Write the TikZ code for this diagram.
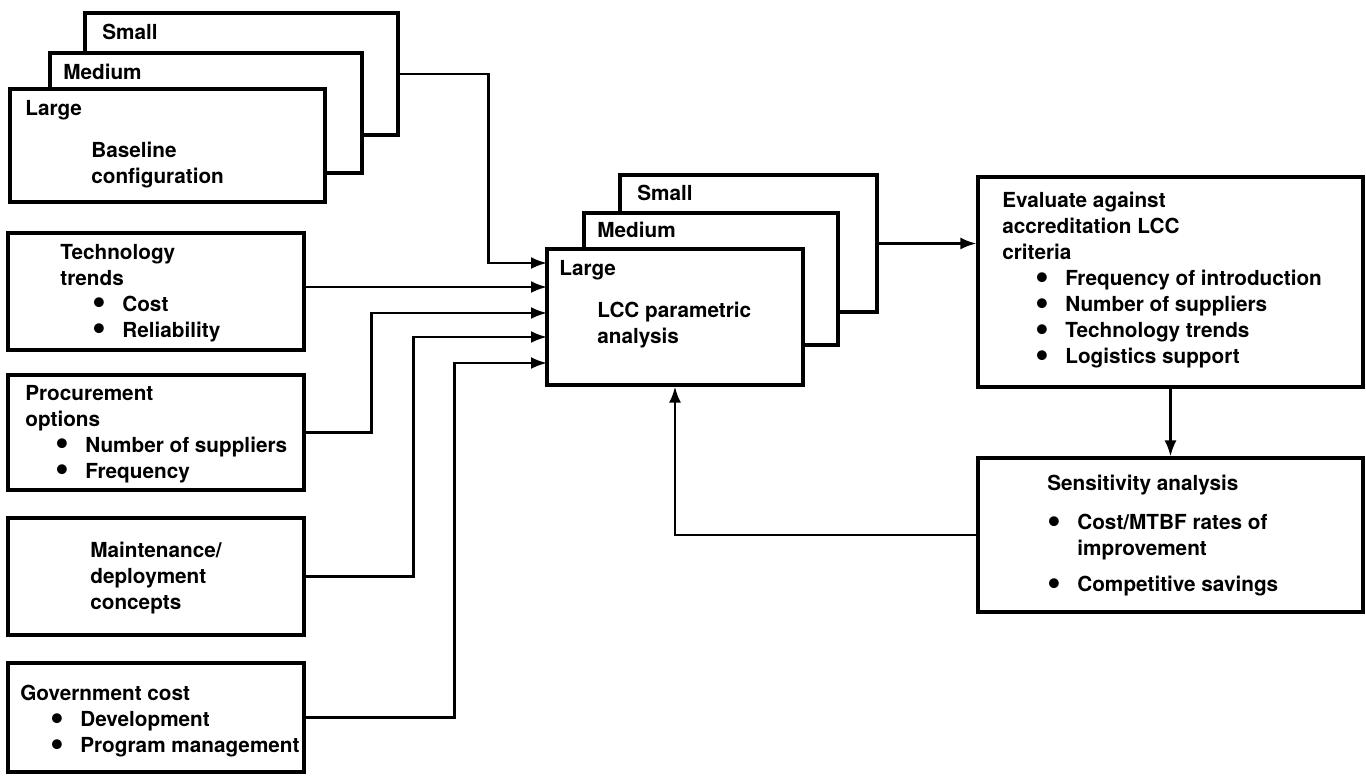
\documentclass[tikz,border=0pt]{standalone}
\usepackage{fontspec}
\usepackage{graphicx}
\setmainfont{TeX Gyre Heros}
\usetikzlibrary{arrows.meta, positioning, fit}
\newcommand{\itm}{\makebox[0.6cm][l]{\smash{\raisebox{-0.3ex}{\scalebox{1.9}{\textbullet}}}}}

\begin{document}
\begin{tikzpicture}[
  x=0.02cm, y=-0.02cm,
  panel/.style={rectangle, draw, line width=1.8pt, fill=white, inner sep=0pt},
  txt/.style={anchor=north west, align=left, inner sep=0pt, font=\bfseries\fontsize{11.8}{14.8}\selectfont},
  flow/.style={->, line width=1.4pt},
  >={Latex[length=0.32cm, width=0.24cm]}
]
\useasboundingbox (0,0) rectangle (1366,775);

\node[panel, fit={(85,13) (398,135)}] (baseS) {};
\node[panel, fit={(50,53) (362,173)}] (baseM) {};
\node[panel, fit={(10,89) (325,202)}] (baseL) {};
\node[txt] (baseStag) at (102,24) {Small};
\node[txt] (baseMtag) at (63,64) {Medium};
\node[txt] (baseLtag) at (25,100) {Large};
\node[txt] (basetext) at (91,142) {Baseline\\configuration};

\node[panel, fit={(8,233) (304,350)}] (tech) {};
\node[txt] (techtext) at (60,244) {Technology\\trends\\\hspace*{0.64cm}\itm Cost\\\hspace*{0.64cm}\itm Reliability};

\node[panel, fit={(8,375) (304,490)}] (proc) {};
\node[txt] (proctext) at (25,385) {Procurement\\options\\\hspace*{0.6cm}\itm Number of suppliers\\\hspace*{0.6cm}\itm Frequency};

\node[panel, fit={(8,518) (304,635)}] (maint) {};
\node[txt] (mainttext) at (90,542) {Maintenance/\\deployment\\concepts};

\node[panel, fit={(8,663) (304,772)}] (gov) {};
\node[txt] (govtext) at (20,685) {Government cost\\\hspace*{0.6cm}\itm Development\\\hspace*{0.6cm}\itm Program management};

\node[panel, fit={(620,175) (877,312)}] (lccS) {};
\node[panel, fit={(584,213) (838,345)}] (lccM) {};
\node[panel, fit={(547,249) (803,385)}] (lccL) {};
\node[txt] (lccStag) at (637,185) {Small};
\node[txt] (lccMtag) at (597,222) {Medium};
\node[txt] (lccLtag) at (559,260) {Large};
\node[txt] (lcctext) at (597,302) {LCC parametric\\analysis};

\node[panel, fit={(978,177) (1363,387)}] (eval) {};
\node[txt] (evaltext) at (1002,192) {Evaluate against\\accreditation LCC\\criteria\\\hspace*{0.66cm}\itm Frequency of introduction\\\hspace*{0.66cm}\itm Number of suppliers\\\hspace*{0.66cm}\itm Technology trends\\\hspace*{0.66cm}\itm Logistics support};

\node[panel, fit={(978,458) (1363,612)}] (sens) {};
\node[txt] (senstext) at (1047,475) {Sensitivity analysis\\[0.26cm]\itm Cost/MTBF rates of\\\hspace*{0.6cm}improvement\\[0.2cm]\itm Competitive savings};

\coordinate (in1) at (547,263);
\coordinate (in2) at (547,287);
\coordinate (in3) at (547,313);
\coordinate (in4) at (547,337);
\coordinate (in5) at (547,363);

\draw[flow] (baseS.east) -- ++(89,0) |- (in1);
\draw[flow] (tech.east |- in2) -- (in2);
\draw[flow] (proc.east) -- ++(66,0) |- (in3);
\draw[flow] (maint.east) -- ++(108,0) |- (in4);
\draw[flow] (gov.east) -- ++(149,0) |- (in5);
\draw[flow] (lccS.east) -- (lccS.east -| eval.west);
\draw[flow] (eval.south) -- (sens.north);
\draw[flow] (sens.west) -| (lccL.south);
\end{tikzpicture}
\end{document}
